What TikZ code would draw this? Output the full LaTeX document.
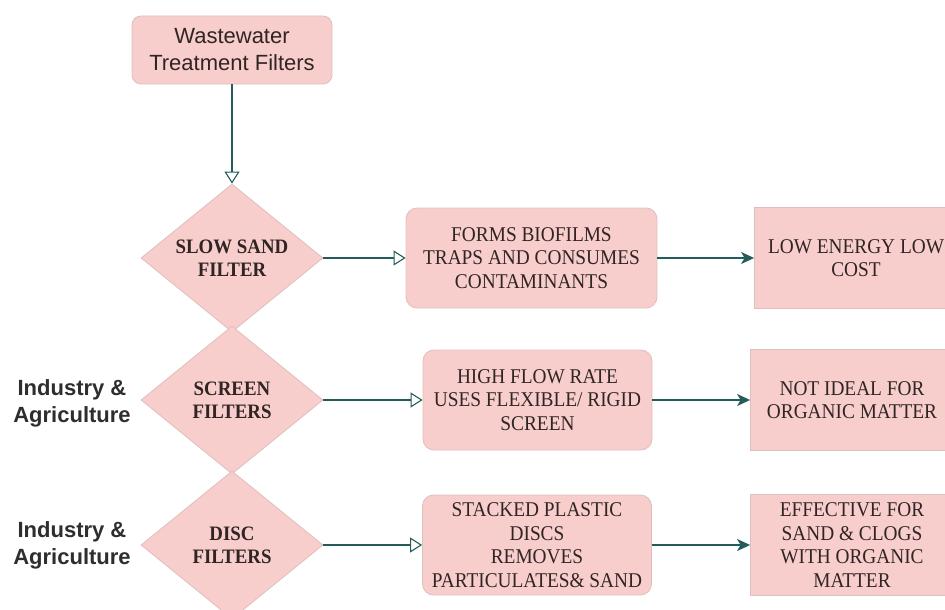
\documentclass[tikz,border=0pt]{standalone}
\usepackage{fontspec}
\newfontfamily\boxfont[FakeStretch=0.92]{Liberation Serif}
\newfontfamily\labelfont{Liberation Sans}
\usepackage{xcolor}
\usetikzlibrary{arrows.meta}
\usetikzlibrary{shapes.geometric}
\definecolor{pinkfill}{RGB}{248,206,204}
\definecolor{rimcol}{RGB}{224,190,190}
\definecolor{arrowcol}{RGB}{36,92,92}
\definecolor{txtcol}{RGB}{48,36,36}

\begin{document}
\begin{tikzpicture}[x=1pt, y=-1pt] % y nach unten: Koordinaten wie Pixel
\tikzstyle{every node} = [text=txtcol, align=center]
\tikzstyle{startbox} = [rectangle, rounded corners=9pt, draw=rimcol, line width=0.8pt, fill=pinkfill, minimum width=200pt, minimum height=68pt, font=\labelfont\fontsize{22}{27}\selectfont]
\tikzstyle{filterdia} = [diamond, shape aspect=1.25, inner sep=0pt, draw=rimcol, line width=0.8pt, fill=pinkfill, minimum width=182pt, minimum height=148pt, font=\boxfont\bfseries\fontsize{20.5}{23}\selectfont]
\tikzstyle{infobox} = [rectangle, rounded corners=11pt, draw=rimcol, line width=0.8pt, fill=pinkfill, minimum height=100pt, font=\boxfont\fontsize{21}{23.5}\selectfont]
\tikzstyle{resultbox} = [rectangle, draw=rimcol, line width=0.8pt, fill=pinkfill, minimum width=203pt, minimum height=101pt, font=\boxfont\fontsize{21}{23.5}\selectfont]
\tikzstyle{sidelabel} = [font=\labelfont\bfseries\fontsize{22}{27}\selectfont, text=black!82]
\tikzstyle{opentip} = [draw=arrowcol, line width=1.4pt, -{Triangle[open, length=12pt, width=15pt, line width=1.1pt]}]
\tikzstyle{filltip} = [draw=arrowcol, line width=1.4pt, -{Stealth[length=13pt, width=12pt, inset=3.5pt]}]
\clip (0,0) rectangle (945,610);

\node [startbox] (start) at (232,50) {Wastewater\\Treatment Filters};

\node [filterdia] (slow) at (232,258) {SLOW SAND\\FILTER};
\node [filterdia] (screen) at (232,400) {SCREEN\\FILTERS};
\node [filterdia] (disc) at (232,545) {DISC\\FILTERS};

\node [infobox, minimum width=251pt] (sandinfo) at (531.5,258) {FORMS BIOFILMS\\TRAPS AND CONSUMES\\CONTAMINANTS};
\node [infobox, minimum width=229pt] (screeninfo) at (537.5,400) {HIGH FLOW RATE\\USES FLEXIBLE/ RIGID\\SCREEN};
\node [infobox, minimum width=229pt] (discinfo) at (537,545) {STACKED PLASTIC\\DISCS\\REMOVES\\PARTICULATES\& SAND};

\node [resultbox] (sandres) at (856,258) {LOW ENERGY LOW\\COST};
\node [resultbox] (screenres) at (852,400) {NOT IDEAL FOR\\ORGANIC MATTER};
\node [resultbox] (discres) at (852,545) {EFFECTIVE FOR\\SAND \& CLOGS\\WITH ORGANIC\\MATTER};

\node [sidelabel] (screenuse) at (72,403) {Industry \&\\Agriculture};
\node [sidelabel] (discuse) at (72,545) {Industry \&\\Agriculture};

\foreach \from/\to in {start/slow, slow/sandinfo, screen/screeninfo, disc/discinfo}
\draw [opentip] (\from) -- (\to);
\foreach \from/\to in {sandinfo/sandres, screeninfo/screenres, discinfo/discres}
\draw [filltip] (\from) -- (\to);
\end{tikzpicture}
\end{document}
